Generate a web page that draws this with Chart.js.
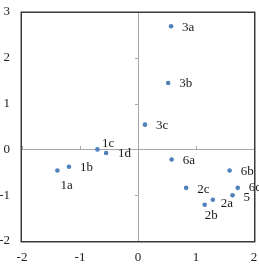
<!DOCTYPE html>
<html><head><meta charset="utf-8">
<style>html,body{margin:0;padding:0;background:#fff}#wrap{width:259px;height:269px}</style>
<script src="https://cdn.jsdelivr.net/npm/chart.js@4"></script>
</head>
<body><div id="wrap"><canvas id="c" width="259" height="269"></canvas></div>
<script>
const pointLabels = ['1a','1b','1c','1d','3a','3b','3c','6a','6b','6c','5','2a','2b','2c'];
const xValues = [-1.39,-1.19,-0.70,-0.55,0.57,0.52,0.12,0.58,1.58,1.72,1.63,1.29,1.15,0.83];
const yValues = [-0.46,-0.38,0.00,-0.08,2.69,1.45,0.54,-0.22,-0.46,-0.84,-1.00,-1.10,-1.21,-0.84];
const xTicks = [-2,-1,0,1,2];
const yTicks = [-2,-1,0,1,2,3];

const FONT = '"Liberation Serif", "Times New Roman", serif';
const FRAME = '#3a3a3a';
// label placement (left edge offset, vertical centre offset) in px
const labelOffsets = {
  '1a':[3,15], '1b':[11,1], '1c':[4.5,-5.5], '1d':[12,1],
  '3a':[11,1], '3b':[11,1], '3c':[11,1], '6a':[11,1], '6b':[11,1],
  '6c':[11,0], '5':[11,2], '2a':[8,4], '2b':[0,11], '2c':[11,2]
};

const decor = {
  id:'decor',
  beforeDatasetsDraw(chart){
    const {ctx, chartArea:a, scales:{x,y}} = chart;
    const x0 = Math.round(x.getPixelForValue(0));
    const y0 = Math.round(y.getPixelForValue(0));
    ctx.save();
    ctx.fillStyle = '#a6a6a6';
    ctx.fillRect(x0, a.top, 1, a.bottom - a.top);
    ctx.fillRect(a.left, y0, a.right - a.left, 1);
    xTicks.forEach(v=>{ if(v===0) return; const px=Math.round(x.getPixelForValue(v)); ctx.fillRect(px, y0-3, 1, 3);});
    yTicks.forEach(v=>{ if(v===0) return; const py=Math.round(y.getPixelForValue(v)); ctx.fillRect(x0-3, py, 3, 1);});
    ctx.restore();
  },
  afterDatasetsDraw(chart){
    const {ctx} = chart;
    const meta = chart.getDatasetMeta(0);
    ctx.save();
    ctx.font = '13px ' + FONT;
    ctx.fillStyle = '#1a1a1a';
    ctx.textAlign = 'left'; ctx.textBaseline = 'middle';
    meta.data.forEach((el,i)=>{
      const lab = pointLabels[i];
      const o = labelOffsets[lab] || [11,1];
      ctx.fillText(lab, el.x + o[0], el.y + o[1]);
    });
    ctx.restore();
  },
  afterDraw(chart){
    const {ctx, chartArea:a} = chart;
    ctx.save();
    ctx.strokeStyle = FRAME; ctx.lineWidth = 1.5;
    ctx.strokeRect(Math.round(a.left)-0.75, Math.round(a.top)+0.25, Math.round(a.right)-Math.round(a.left)+1.5, Math.round(a.bottom)-Math.round(a.top)+0.5);
    ctx.restore();
  }
};

new Chart(document.getElementById('c'), {
  type:'scatter',
  data:{ datasets:[{
    data: xValues.map((v,i)=>({x:v, y:yValues[i]})),
    backgroundColor:'#4F81BD', borderWidth:0, pointRadius:2.3, pointHoverRadius:2.3, clip:false
  }]},
  options:{
    responsive:false, animation:false, devicePixelRatio:1,
    layout:{padding:{top:12,right:5,left:0,bottom:0}},
    plugins:{legend:{display:false}, tooltip:{enabled:false}},
    scales:{
      x:{type:'linear', min:-2, max:2,
        afterBuildTicks(s){ s.ticks = xTicks.map(v=>({value:v})); },
        afterFit(s){ s.height = 28; s.paddingLeft = 0; s.paddingRight = 0; },
        grid:{display:false, drawTicks:false}, border:{display:false},
        ticks:{padding:9, color:'#222', font:{family:FONT, size:13}, maxRotation:0}
      },
      y:{type:'linear', min:-2, max:3,
        afterBuildTicks(s){ s.ticks = yTicks.map(v=>({value:v})); },
        afterFit(s){ s.width = 22; s.paddingTop = 0; s.paddingBottom = 0; },
        grid:{display:false, drawTicks:false}, border:{display:false},
        ticks:{padding:12, color:'#222', font:{family:FONT, size:13}}
      }
    }
  },
  plugins:[decor]
});
</script>
</body></html>
